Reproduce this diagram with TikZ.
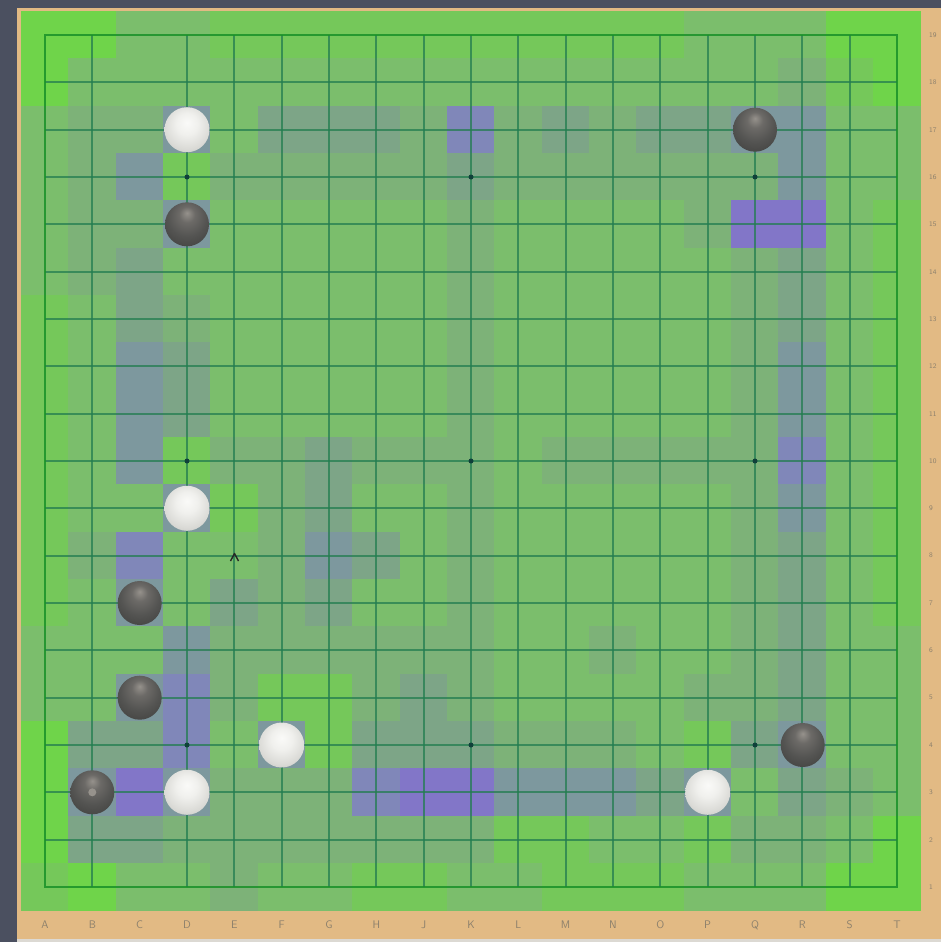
\documentclass[tikz,border=0pt]{standalone}
\definecolor{bgdark}{HTML}{4B5060}
\definecolor{tanboard}{HTML}{E2BA84}
\definecolor{bottomgray}{HTML}{DCD9D3}
\definecolor{L0}{HTML}{6FD44A}
\definecolor{L1}{HTML}{75C85A}
\definecolor{L2}{HTML}{7BBE6C}
\definecolor{L3}{HTML}{7DB278}
\definecolor{L4}{HTML}{7DA587}
\definecolor{L5}{HTML}{7D989E}
\definecolor{L6}{HTML}{8087B9}
\definecolor{L7}{HTML}{8276C8}
\definecolor{gridc}{RGB}{35,125,80}
\definecolor{borderc}{RGB}{25,145,40}
\definecolor{starc}{HTML}{10403A}
\definecolor{labelc}{HTML}{8C806C}
\definecolor{wA}{RGB}{250,250,248}
\definecolor{wB}{RGB}{240,240,237}
\definecolor{wC}{RGB}{218,218,214}
\definecolor{wD}{RGB}{200,200,196}
\definecolor{bA}{RGB}{150,146,140}
\definecolor{bB}{RGB}{108,106,103}
\definecolor{bC}{RGB}{84,84,82}
\definecolor{bD}{RGB}{66,66,64}
\pgfdeclareradialshading{whitestone}{\pgfpoint{0bp}{8bp}}{color(0bp)=(wA); color(12bp)=(wB); color(26bp)=(wC); color(34bp)=(wD); color(60bp)=(wD)}
\pgfdeclareradialshading{blackstone}{\pgfpoint{0bp}{13bp}}{color(0bp)=(bA); color(9bp)=(bB); color(22bp)=(bC); color(36bp)=(bD); color(60bp)=(bD)}
\tikzset{
  gridline/.style={draw=gridc, line width=1.9pt, draw opacity=0.75},
  borderline/.style={draw=borderc, line width=2.6pt, draw opacity=0.85},
  stonew/.style={circle, minimum size=45pt, inner sep=0pt, shading=whitestone},
  stoneb/.style={circle, minimum size=44pt, inner sep=0pt, shading=blackstone},
  starpt/.style={circle, fill=starc, minimum size=5pt, inner sep=0pt},
  collabel/.style={font=\sffamily\fontsize{11}{11}\selectfont, text=labelc, inner sep=0pt},
  rowlabel/.style={font=\sffamily\fontsize{7}{7}\selectfont, text=labelc, inner sep=0pt, anchor=west},
  marker/.style={circle, fill=bA, minimum size=8pt, inner sep=0pt}
}
\begin{document}
\begin{tikzpicture}[x=1pt,y=-1pt]
\useasboundingbox (0,0) rectangle (941,942);
\fill[bgdark] (0,0) rectangle (941,942);
\fill[tanboard] (17,8) rectangle (941,939);
\fill[bottomgray] (17,939) rectangle (941,942);
% heat map cells
\foreach \row [count=\r from 0] in {
 {0,0,2,2,1,1,1,1,1,1,1,1,1,1,2,2,2,0,0},
 {0,2,2,2,2,2,2,2,2,2,2,2,2,2,2,2,3,1,0},
 {2,3,3,5,2,4,4,4,3,6,3,4,3,4,4,5,5,2,2},
 {2,3,5,1,3,3,3,3,3,4,3,3,3,3,3,3,5,2,2},
 {2,3,3,5,2,2,2,2,2,3,2,2,2,2,3,7,7,2,1},
 {2,3,4,2,2,2,2,2,2,3,2,2,2,2,2,3,4,2,1},
 {1,2,4,3,2,2,2,2,2,3,2,2,2,2,2,3,4,2,1},
 {1,2,5,4,2,2,2,2,2,3,2,2,2,2,2,3,5,2,1},
 {1,2,5,4,2,2,2,2,2,3,2,2,2,2,2,3,5,2,1},
 {1,2,5,1,3,3,4,3,3,3,2,3,3,3,3,3,6,2,1},
 {1,2,2,5,1,3,4,2,2,3,2,2,2,2,2,3,5,2,1},
 {1,3,6,2,2,3,5,4,2,3,2,2,2,2,2,3,4,2,1},
 {1,2,5,2,4,3,4,2,2,3,2,2,2,2,2,3,4,2,1},
 {2,2,2,5,3,3,3,3,3,3,2,2,3,2,2,3,4,2,2},
 {2,2,5,6,3,1,1,3,4,3,2,2,2,2,3,3,4,2,2},
 {0,4,4,6,2,5,1,4,4,4,3,3,3,2,1,4,5,2,2},
 {0,5,7,5,3,3,3,6,7,7,5,5,5,4,5,2,4,3,2},
 {0,4,4,3,3,3,3,3,3,3,1,1,2,2,1,3,3,2,0},
 {1,0,2,2,3,2,2,1,1,2,2,1,1,1,2,2,2,0,0}} {
  \foreach \v [count=\c from 0] in \row {
    \pgfmathsetmacro{\cx}{45+47.333*\c}
    \pgfmathsetmacro{\cy}{35+47.333*\r}
    \fill[fill=L\v] (\cx-23.9,\cy-23.9) rectangle (\cx+23.9,\cy+23.9);
  }
}
% grid lines
\foreach \c in {1,3,4,...,17}
  \draw[gridline] ({45+47.333*\c},35) -- ({45+47.333*\c},887);
\foreach \r in {1,...,17}
  \draw[gridline] (45,{35+47.333*\r}) -- (897,{35+47.333*\r});
\draw[borderline] (45,35) rectangle (897,887);
% star points
\foreach \sc in {3,9,15}
  \foreach \sr in {3,9,15}
    \node[starpt] (star\sc-\sr) at ({45+47.333*\sc},{35+47.333*\sr}) {};
% stones
\node[stonew] (wD17) at (187,129.7) {};
\node[stoneb] (bD15) at (187,224.3) {};
\node[stoneb] (bQ17) at (755,129.7) {};
\node[stonew] (wD9) at (187,508.3) {};
\node[stoneb] (bC7) at (139.7,603) {};
\node[stoneb] (bC5) at (139.7,697.7) {};
\node[stonew] (wF4) at (281.7,745) {};
\node[stoneb] (bB3) at (92.3,792.3) {};
\node[marker] (lastmove) at (92.3,792.3) {};
\node[stonew] (wD3) at (187,792.3) {};
\node[stonew] (wP3) at (707.7,792.3) {};
\node[stoneb] (bR4) at (802.7,745) {};
% cursor caret
\draw[line width=1.4pt, black!85, line join=round] (230.5,561) -- (234.5,553.5) -- (238.5,561);
% coordinate labels
\foreach \l [count=\c from 0] in {A,B,C,D,E,F,G,H,J,K,L,M,N,O,P,Q,R,S,T}
  \node[collabel] (col\c) at ({45+47.333*\c},925) {\l};
\foreach \r in {0,...,18} {
  \pgfmathtruncatemacro{\n}{19-\r}
  \node[rowlabel] (row\r) at (929,{35+47.333*\r}) {\n};
}
\end{tikzpicture}
\end{document}
